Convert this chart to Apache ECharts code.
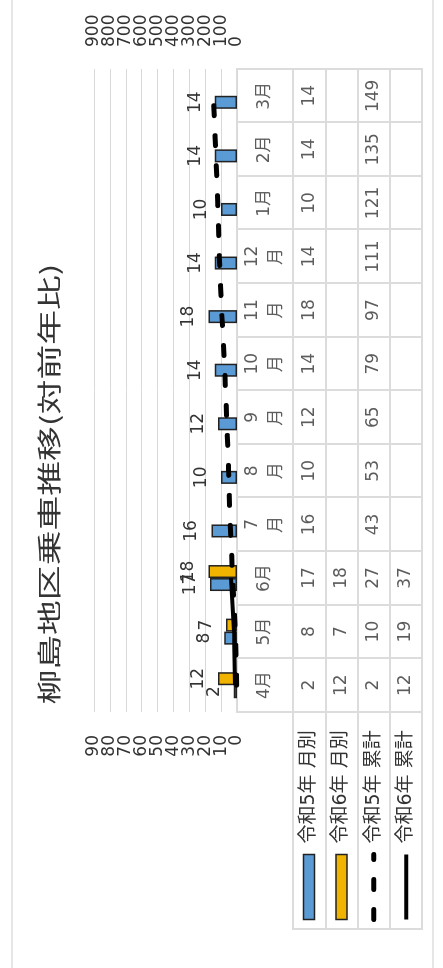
<!DOCTYPE html>
<html>
<head>
<meta charset="utf-8">
<script src="https://cdn.jsdelivr.net/npm/echarts@6/dist/echarts.min.js"></script>
<style>
html,body{margin:0;padding:0;background:#fff;width:443px;height:968px;overflow:hidden;}
/* chart is laid out landscape and turned a quarter turn, like the source picture */
#chart{position:absolute;left:0;top:0;width:968px;height:443px;transform-origin:0 0;transform:translate(0,968px) rotate(-90deg);}
</style>
</head>
<body>
<div id="chart"></div>
<script>
var title = '柳島地区乗車推移(対前年比)';
var months = ['4月','5月','6月','7月','8月','9月','10月','11月','12月','1月','2月','3月'];
var r5Monthly = [2, 8, 17, 16, 10, 12, 14, 18, 14, 10, 14, 14];
var r6Monthly = [12, 7, 18, null, null, null, null, null, null, null, null, null];
var r5Total = [2, 10, 27, 43, 53, 65, 79, 97, 111, 121, 135, 149];
var r6Total = [12, 19, 37, null, null, null, null, null, null, null, null, null];
var seriesNames = ['令和5年 月別', '令和6年 月別', '令和5年 累計', '令和6年 累計'];
var leftTicks = {min: 0, max: 90, interval: 10};
var rightTicks = {min: 0, max: 900, interval: 100};

var FONT = "'DejaVu Sans', 'Noto Sans CJK JP', sans-serif";
var TXT = '#333';
var LINE = '#dcdcdc';

var chart = echarts.init(document.getElementById('chart'));

// 表のセル（値テキスト）
function cellSeries(values, row){
	var data = [];
	for(var i=0; i<values.length; i++){
		if(values[i] != null) data.push([i, row, values[i]]);
	}
	return {
		type:'scatter', xAxisIndex:2, yAxisIndex:5, symbolSize:1, silent:true,
		itemStyle:{color:'rgba(0,0,0,0)'},
		label:{show:true, position:'inside', fontSize:17, fontFamily:FONT, color:TXT,
			formatter:function(p){ return p.value[2]; }},
		data:data
	};
}

var monthCells = [];
for(var i=0; i<months.length; i++) monthCells.push([i, 0]);

function tableAxis(type, grid, data, extra){
	var a = {type:type, gridIndex:grid, data:data, axisLine:{show:false}, axisTick:{show:false}, axisLabel:{show:false},
		splitLine:{show:true, interval:0, lineStyle:{color:LINE, width:2}}};
	for(var k in extra) a[k] = extra[k];
	return a;
}
var gridBox = {show:true, borderColor:LINE, borderWidth:2, backgroundColor:'transparent', outerBoundsMode:'none'};
function box(o){ var g = {}; for(var k in gridBox) g[k] = gridBox[k]; for(var k2 in o) g[k2] = o[k2]; return g; }

// 目盛ラベルが詰まっていて自動で間引かれるので、偶数番目と奇数番目を別の軸に分けて全部出す
function valueAxis(pos, t, margin, odd, grid){
	return {
		type:'value', gridIndex:0, position:pos, min:t.min, max:t.max, interval:t.interval,
		axisLine:{show:false}, axisTick:{show:false},
		axisLabel:{margin:margin, fontSize:17, fontFamily:FONT, color:TXT, hideOverlap:false,
			showMinLabel:!odd, showMaxLabel:odd,
			formatter:function(v){
				var n = Math.round((v - t.min) / t.interval);
				return (n % 2 === 1) === odd ? String(v) : '';
			}},
		splitLine:{show:grid, lineStyle:{color:'#d9d9d9', width:1}}
	};
}

var option = {
	animation:false,
	backgroundColor:'#fff',
	textStyle:{fontFamily:FONT},
	graphic:[
		{type:'rect', silent:true, z:-10, shape:{x:-5, y:12, width:978, height:421},
			style:{fill:'none', stroke:'#e6e6e6', lineWidth:2}},
		{type:'text', x:484, y:49, scaleX:1.45,
			style:{text:title, fontSize:24, fontFamily:"'Noto Sans CJK JP', sans-serif", fill:TXT, align:'center', verticalAlign:'middle'}}
	],
	legend:{
		orient:'vertical', left:46, top:299, padding:0, itemWidth:65, itemHeight:11, itemGap:12.4,
		selectedMode:false,
		textStyle:{fontSize:19, fontFamily:FONT, color:TXT, lineHeight:20, padding:[0,0,0,6]},
		data:[
			{name:seriesNames[0], icon:'rect', itemStyle:{borderWidth:1.5}},
			{name:seriesNames[1], icon:'rect', itemStyle:{borderWidth:1.5}},
			{name:seriesNames[2], lineStyle:{width:5}, itemStyle:{opacity:0}},
			{name:seriesNames[3], lineStyle:{width:4}, itemStyle:{opacity:0}}
		]
	},
	grid:[
		{left:256, top:94, width:643, height:143, outerBoundsMode:'none'},
		box({left:256, top:237, width:643, height:56}),
		box({left:256, top:293, width:643, height:129}),
		box({left:39, top:293, width:217, height:129})
	],
	xAxis:[
		{type:'category', gridIndex:0, data:months, axisLine:{show:false}, axisTick:{show:false}, axisLabel:{show:false}},
		tableAxis('category', 1, months),
		tableAxis('category', 2, months),
		{type:'category', gridIndex:3, data:[''], axisLine:{show:false}, axisTick:{show:false}, axisLabel:{show:false}}
	],
	yAxis:[
		valueAxis('left', leftTicks, 23, false, true),
		valueAxis('left', leftTicks, 23, true, false),
		valueAxis('right', rightTicks, 22, false, false),
		valueAxis('right', rightTicks, 22, true, false),
		{type:'category', gridIndex:1, data:[''], axisLine:{show:false}, axisTick:{show:false}, axisLabel:{show:false}},
		tableAxis('category', 2, ['r1','r2','r3','r4'], {inverse:true}),
		tableAxis('category', 3, ['r1','r2','r3','r4'], {inverse:true})
	],
	series:[
		{name:seriesNames[0], type:'bar', xAxisIndex:0, yAxisIndex:0, data:r5Monthly, barWidth:13, barGap:'0%', z:2,
			itemStyle:{color:'#5b9bd5', borderColor:'#222', borderWidth:1.5},
			label:{show:true, position:'top', distance:11, fontSize:17, fontFamily:FONT, color:TXT}},
		{name:seriesNames[1], type:'bar', xAxisIndex:0, yAxisIndex:0, data:r6Monthly, barWidth:13, barGap:'0%', z:2,
			itemStyle:{color:'#f0b400', borderColor:'#222', borderWidth:1.5},
			label:{show:true, position:'top', distance:11, fontSize:17, fontFamily:FONT, color:TXT}},
		{name:seriesNames[2], type:'line', xAxisIndex:0, yAxisIndex:2, data:r5Total, symbol:'none', z:3,
			lineStyle:{color:'#000', width:5, type:[10, 20], cap:'round'}, itemStyle:{color:'#000'}},
		{name:seriesNames[3], type:'line', xAxisIndex:0, yAxisIndex:2, data:r6Total, symbol:'none', z:3,
			lineStyle:{color:'#000', width:4}, itemStyle:{color:'#000'}},
		// 表の見出し行（月）
		{type:'scatter', xAxisIndex:1, yAxisIndex:4, symbolSize:1, silent:true, itemStyle:{color:'rgba(0,0,0,0)'},
			label:{show:true, position:'inside', fontSize:17, lineHeight:24, fontFamily:FONT, color:TXT,
				formatter:function(p){
					var m = months[p.value[0]];
					return (p.value[0] >= 3 && p.value[0] <= 8) ? m.replace('月', '\n月') : m;
				}},
			data:monthCells},
		cellSeries(r5Monthly, 0),
		cellSeries(r6Monthly, 1),
		cellSeries(r5Total, 2),
		cellSeries(r6Total, 3)
	]
};
chart.setOption(option);
</script>
</body>
</html>
